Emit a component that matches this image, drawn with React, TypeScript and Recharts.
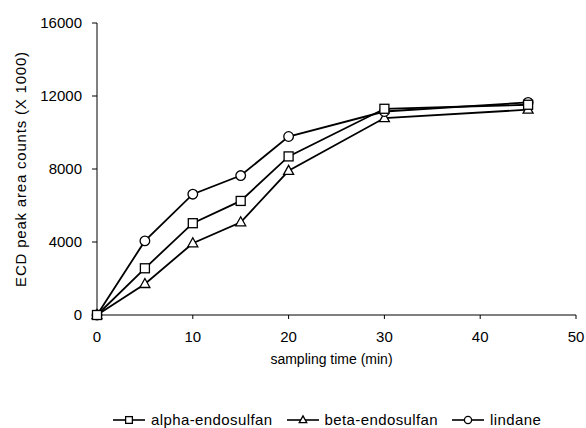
import React from 'react';
import { LineChart, Line, XAxis, YAxis, Legend, Label } from 'recharts';

const timeMin = [0, 5, 10, 15, 20, 30, 45];
const alphaEndosulfan = [0, 2560, 5030, 6250, 8690, 11300, 11520];
const betaEndosulfan = [0, 1700, 3930, 5080, 7900, 10790, 11250];
const lindane = [0, 4060, 6620, 7640, 9780, 11150, 11650];
const xTicks = [0, 10, 20, 30, 40, 50];
const yTicks = [0, 4000, 8000, 12000, 16000];

const seriesNames = ['alpha-endosulfan', 'beta-endosulfan', 'lindane'];

const data = timeMin.map((t, i) => ({
  t,
  alpha: alphaEndosulfan[i],
  beta: betaEndosulfan[i],
  lindane: lindane[i],
}));

const FONT = '"Liberation Sans", Arial, sans-serif';

const drawMarker = (kind: string, cx: number, cy: number, s = 1, key?: any) => {
  const common = { fill: '#fff', stroke: '#000', strokeWidth: 1.3 };
  if (kind === 'square') {
    return <rect key={key} x={cx - 4.5 * s} y={cy - 4.5 * s} width={9 * s} height={9 * s} {...common} />;
  }
  if (kind === 'triangle') {
    return (
      <polygon
        key={key}
        points={`${cx},${cy - 5.5 * s} ${cx - 5 * s},${cy + 3.5 * s} ${cx + 5 * s},${cy + 3.5 * s}`}
        {...common}
      />
    );
  }
  return <circle key={key} cx={cx} cy={cy} r={4.8 * s} {...common} />;
};

const markerDot = (kind: string) => (props: any) =>
  drawMarker(kind, props.cx, props.cy, 1, props.key ?? props.index);

const legendKinds = ['square', 'triangle', 'circle'];

const LegendContent = () => (
  <div
    style={{
      display: 'flex',
      alignItems: 'center',
      height: 16,
      paddingLeft: 113,
      fontFamily: FONT,
      fontSize: 15,
      letterSpacing: 0.4,
      color: '#000',
    }}
  >
    {seriesNames.map((name, i) => (
      <div key={name} style={{ display: 'flex', alignItems: 'center', marginRight: 14 }}>
        <svg width={32} height={14} style={{ marginRight: 6 }}>
          <line x1={0} y1={7} x2={32} y2={7} stroke="#000" strokeWidth={1.6} />
          {drawMarker(legendKinds[i], 16, 7, 0.75)}
        </svg>
        <span style={{ lineHeight: '16px' }}>{name}</span>
      </div>
    ))}
  </div>
);

const YTitle = (props: any) => {
  const vb = props.viewBox || {};
  const cy = vb.y + vb.height / 2;
  const cx = 20;
  return (
    <text
      x={cx}
      y={cy}
      transform={`rotate(-90, ${cx}, ${cy})`}
      textAnchor="middle"
      dominantBaseline="central"
      fontFamily={FONT}
      fontSize={15}
      letterSpacing={0.8}
      fill="#000"
    >
      ECD peak area counts (X 1000)
    </text>
  );
};

const tickStyle = { fill: '#000', fontSize: 15, fontFamily: FONT };

export default function App() {
  return (
    <div style={{ position: 'absolute', left: 0, top: 0, background: '#fff' }}>
      <LineChart
        width={586}
        height={428}
        data={data}
        margin={{ top: 23, right: 10, left: 0, bottom: 0 }}
      >
        <XAxis
          dataKey="t"
          type="number"
          domain={[0, 50]}
          ticks={xTicks}
          height={97}
          stroke="#000"
          tickSize={4}
          tickMargin={12}
          tick={tickStyle}
        >
          <Label
            value="sampling time (min)"
            position="insideBottom"
            offset={48}
            dx={-5}
            style={{ fill: '#000', fontSize: 14, fontFamily: FONT }}
          />
        </XAxis>
        <YAxis
          type="number"
          domain={[0, 16000]}
          ticks={yTicks}
          width={97}
          stroke="#000"
          tickSize={5}
          tickMargin={10}
          tick={tickStyle}
        >
          <Label content={YTitle} />
        </YAxis>
        <Legend
          verticalAlign="bottom"
          content={LegendContent}
          wrapperStyle={{ left: 0, width: 586, bottom: 0 }}
        />
        <Line
          dataKey="beta"
          stroke="#000"
          strokeWidth={1.8}
          dot={markerDot('triangle')}
          isAnimationActive={false}
        />
        <Line
          dataKey="lindane"
          stroke="#000"
          strokeWidth={1.8}
          dot={markerDot('circle')}
          isAnimationActive={false}
        />
        <Line
          dataKey="alpha"
          stroke="#000"
          strokeWidth={1.8}
          dot={markerDot('square')}
          isAnimationActive={false}
        />
      </LineChart>
    </div>
  );
}
